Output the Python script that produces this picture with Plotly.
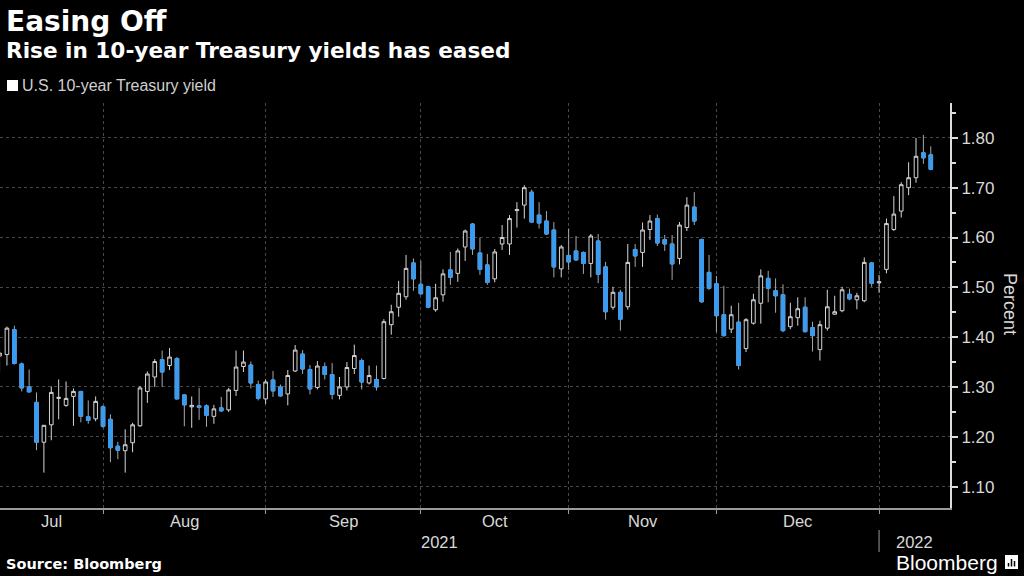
import pandas as pd
import plotly.graph_objects as go

# Trading days on the chart (US bond market calendar)
START_DATE = '2021-07-12'
END_DATE = '2022-01-11'
HOLIDAYS = ['2021-09-06', '2021-10-11', '2021-11-11', '2021-11-25', '2021-12-24']

# Daily OHLC of the U.S. 10-year Treasury yield (percent)
opens = [1.362, 1.365, 1.415, 1.346, 1.300, 1.269, 1.189, 1.224, 1.277, 1.263,
         1.281, 1.291, 1.240, 1.236, 1.260, 1.235, 1.181, 1.172, 1.188, 1.222,
         1.291, 1.320, 1.355, 1.343, 1.357, 1.284, 1.260, 1.262, 1.262, 1.241,
         1.258, 1.254, 1.293, 1.341, 1.344, 1.305, 1.276, 1.314, 1.300, 1.286,
         1.332, 1.366, 1.335, 1.299, 1.341, 1.325, 1.283, 1.300, 1.337, 1.353,
         1.308, 1.315, 1.317, 1.425, 1.460, 1.481, 1.549, 1.506, 1.501, 1.455,
         1.485, 1.535, 1.528, 1.581, 1.627, 1.569, 1.545, 1.517, 1.587, 1.587,
         1.654, 1.665, 1.691, 1.645, 1.633, 1.615, 1.537, 1.564, 1.573, 1.570,
         1.548, 1.593, 1.541, 1.460, 1.490, 1.461, 1.576, 1.570, 1.616, 1.638,
         1.596, 1.587, 1.558, 1.620, 1.661, 1.596, 1.530, 1.507, 1.445, 1.416,
         1.430, 1.377, 1.428, 1.468, 1.518, 1.493, 1.485, 1.421, 1.439, 1.460,
         1.419, 1.375, 1.418, 1.446, 1.453, 1.486, 1.475, 1.473, 1.549, 1.509,
         1.536, 1.616, 1.653, 1.700, 1.720, 1.770, 1.766]
highs = [1.375, 1.421, 1.423, 1.349, 1.335, 1.289, 1.223, 1.301, 1.315, 1.311,
         1.297, 1.292, 1.273, 1.281, 1.263, 1.245, 1.190, 1.215, 1.228, 1.302,
         1.331, 1.356, 1.373, 1.378, 1.360, 1.285, 1.281, 1.298, 1.265, 1.264,
         1.280, 1.298, 1.373, 1.373, 1.351, 1.313, 1.315, 1.332, 1.305, 1.334,
         1.384, 1.374, 1.344, 1.352, 1.349, 1.348, 1.320, 1.350, 1.385, 1.357,
         1.343, 1.343, 1.436, 1.465, 1.513, 1.565, 1.558, 1.553, 1.503, 1.507,
         1.536, 1.571, 1.578, 1.616, 1.629, 1.600, 1.567, 1.577, 1.625, 1.645,
         1.671, 1.705, 1.696, 1.671, 1.653, 1.631, 1.585, 1.618, 1.603, 1.572,
         1.607, 1.607, 1.551, 1.501, 1.495, 1.587, 1.587, 1.630, 1.645, 1.646,
         1.605, 1.605, 1.631, 1.681, 1.691, 1.598, 1.565, 1.523, 1.503, 1.463,
         1.469, 1.438, 1.487, 1.536, 1.533, 1.518, 1.506, 1.469, 1.480, 1.480,
         1.431, 1.433, 1.495, 1.483, 1.501, 1.497, 1.489, 1.560, 1.551, 1.525,
         1.638, 1.683, 1.711, 1.751, 1.800, 1.806, 1.783]
lows = [1.330, 1.343, 1.345, 1.291, 1.290, 1.173, 1.128, 1.193, 1.235, 1.260,
        1.222, 1.229, 1.226, 1.231, 1.218, 1.149, 1.155, 1.128, 1.169, 1.220,
        1.268, 1.300, 1.300, 1.334, 1.275, 1.221, 1.218, 1.234, 1.220, 1.226,
        1.250, 1.250, 1.282, 1.330, 1.297, 1.273, 1.266, 1.280, 1.280, 1.263,
        1.330, 1.326, 1.285, 1.295, 1.315, 1.275, 1.275, 1.293, 1.326, 1.295,
        1.305, 1.293, 1.315, 1.405, 1.441, 1.475, 1.493, 1.485, 1.458, 1.451,
        1.471, 1.505, 1.511, 1.553, 1.565, 1.525, 1.505, 1.510, 1.575, 1.565,
        1.620, 1.638, 1.630, 1.618, 1.605, 1.520, 1.520, 1.535, 1.553, 1.527,
        1.520, 1.508, 1.435, 1.455, 1.413, 1.455, 1.541, 1.541, 1.595, 1.583,
        1.573, 1.515, 1.546, 1.613, 1.625, 1.469, 1.495, 1.410, 1.401, 1.408,
        1.335, 1.370, 1.425, 1.427, 1.470, 1.449, 1.410, 1.416, 1.423, 1.409,
        1.371, 1.353, 1.413, 1.445, 1.450, 1.474, 1.456, 1.470, 1.501, 1.489,
        1.528, 1.613, 1.640, 1.685, 1.710, 1.748, 1.735]
closes = [1.368, 1.418, 1.347, 1.298, 1.290, 1.189, 1.223, 1.289, 1.279, 1.277,
          1.291, 1.241, 1.233, 1.271, 1.221, 1.178, 1.173, 1.184, 1.224, 1.298,
          1.326, 1.351, 1.330, 1.360, 1.276, 1.264, 1.263, 1.259, 1.243, 1.256,
          1.252, 1.294, 1.340, 1.350, 1.308, 1.277, 1.310, 1.292, 1.282, 1.323,
          1.374, 1.336, 1.296, 1.342, 1.325, 1.285, 1.300, 1.339, 1.363, 1.310,
          1.323, 1.300, 1.431, 1.451, 1.488, 1.538, 1.517, 1.487, 1.460, 1.479,
          1.527, 1.520, 1.573, 1.613, 1.577, 1.536, 1.510, 1.571, 1.600, 1.638,
          1.656, 1.700, 1.631, 1.629, 1.607, 1.541, 1.581, 1.551, 1.555, 1.548,
          1.603, 1.526, 1.451, 1.490, 1.436, 1.550, 1.563, 1.615, 1.633, 1.589,
          1.587, 1.547, 1.625, 1.665, 1.633, 1.471, 1.498, 1.443, 1.403, 1.445,
          1.343, 1.435, 1.475, 1.523, 1.498, 1.483, 1.413, 1.441, 1.457, 1.411,
          1.403, 1.425, 1.461, 1.451, 1.495, 1.477, 1.483, 1.550, 1.508, 1.511,
          1.628, 1.647, 1.706, 1.720, 1.763, 1.760, 1.737]

month_labels = ['Jul', 'Aug', 'Sep', 'Oct', 'Nov', 'Dec']
year_labels = ['2021', '2022']
y_ticks = [1.10, 1.20, 1.30, 1.40, 1.50, 1.60, 1.70, 1.80]
y_minor_ticks = [1.15, 1.25, 1.35, 1.45, 1.55, 1.65, 1.75, 1.85]

BLUE = '#3a9cf0'
GRID = '#474747'
TEXT = '#d9d9d9'

dates = pd.bdate_range(START_DATE, END_DATE)
dates = dates[~dates.isin(pd.to_datetime(HOLIDAYS))]
x_idx = list(range(len(dates)))
hover = [d.strftime('%b %d, %Y') for d in dates]

# month separators sit on the last trading day of each month
periods = dates.to_period('M')
month_end_idx = [i for i in range(len(dates) - 1) if periods[i] != periods[i + 1]]

x_range = [0.06, 128.6]

body_hi = [max(o, c) for o, c in zip(opens, closes)]
body_lo = [min(o, c) for o, c in zip(opens, closes)]

fig = go.Figure()

# wicks + hollow up candles
fig.add_trace(go.Candlestick(
    x=x_idx, open=opens, high=highs, low=lows, close=closes, text=hover,
    increasing=dict(line=dict(color='#d6d6d6', width=1), fillcolor='#000000'),
    decreasing=dict(line=dict(color='#a8a8a8', width=1), fillcolor=BLUE),
    whiskerwidth=0, name='U.S. 10-year Treasury yield', hoverinfo='skip'))

# solid blue bodies for down days drawn on top
fig.add_trace(go.Candlestick(
    x=x_idx, open=opens, high=body_hi, low=body_lo, close=closes,
    increasing=dict(line=dict(color='rgba(0,0,0,0)', width=0), fillcolor='rgba(0,0,0,0)'),
    decreasing=dict(line=dict(color=BLUE, width=1), fillcolor=BLUE),
    whiskerwidth=0, hoverinfo='skip', showlegend=False))

PLOT_W = 1024 - 74
PLOT_H = 576 - 103 - 68


def px(xp):
    return xp / PLOT_W


def py(yp):
    return (576 - 68 - yp) / PLOT_H


annotations = [
    dict(text='<b>Easing Off</b>', x=px(4), y=py(21), xanchor='left', yanchor='middle',
         font=dict(family='DejaVu Sans', size=28, color='#ffffff')),
    dict(text='<b>Rise in 10-year Treasury yields has eased</b>', x=px(4), y=py(50),
         xanchor='left', yanchor='middle',
         font=dict(family='DejaVu Sans', size=21.6, color='#ffffff')),
    dict(text='U.S. 10-year Treasury yield', x=px(20), y=py(86), xanchor='left', yanchor='middle',
         font=dict(family='Liberation Sans', size=16, color='#cfcfcf')),
    dict(text='<b>Source: Bloomberg</b>', x=px(4), y=py(564), xanchor='left', yanchor='middle',
         font=dict(family='DejaVu Sans', size=14.5, color='#ffffff')),
    dict(text='Bloomberg', x=px(894), y=py(562), xanchor='left', yanchor='middle',
         font=dict(family='Liberation Sans', size=21, color='#ffffff')),
    dict(text='Percent', x=px(1010), y=py(304), xanchor='center', yanchor='middle', textangle=90,
         font=dict(family='Liberation Sans', size=18, color=TEXT)),
]

# month labels centred between separators
edges = [x_range[0]] + month_end_idx
for k, lab in enumerate(month_labels):
    annotations.append(dict(text=lab, x=(edges[k] + edges[k + 1]) / 2, xref='x', y=py(521),
                            xanchor='center', yanchor='middle',
                            font=dict(family='Liberation Sans', size=16.5, color=TEXT)))

year_pos = [(x_range[0] + month_end_idx[-1]) / 2, (month_end_idx[-1] + x_range[1]) / 2]
for lab, xp in zip(year_labels, year_pos):
    annotations.append(dict(text=lab, x=xp, xref='x', y=py(542), xanchor='center', yanchor='middle',
                            font=dict(family='Liberation Sans', size=16.5, color=TEXT)))

for a in annotations:
    a.setdefault('xref', 'paper')
    a['yref'] = 'paper'
    a['showarrow'] = False

shapes = [
    # legend swatch
    dict(type='rect', xref='paper', yref='paper', x0=px(7), x1=px(18), y0=py(91), y1=py(80),
         fillcolor='#ffffff', line=dict(width=0)),
    # year separator
    dict(type='line', xref='x', yref='paper', x0=month_end_idx[-1], x1=month_end_idx[-1],
         y0=py(530), y1=py(552), line=dict(color='#9a9a9a', width=1)),
    # little logo box
    dict(type='rect', xref='paper', yref='paper', x0=px(1005), x1=px(1018), y0=py(569), y1=py(555),
         fillcolor='#ffffff', line=dict(width=0)),
]
for bx, top in [(1008.5, 563), (1011.5, 559), (1014.5, 561)]:
    shapes.append(dict(type='line', xref='paper', yref='paper', x0=px(bx), x1=px(bx),
                       y0=py(566.5), y1=py(top), line=dict(color='#000000', width=1.5)))

fig.update_layout(
    width=1024, height=576,
    paper_bgcolor='#000000', plot_bgcolor='#000000',
    margin=dict(l=0, r=74, t=103, b=68),
    showlegend=False,
    annotations=annotations,
    shapes=shapes,
    xaxis=dict(range=x_range, tickvals=month_end_idx, ticktext=[''] * len(month_end_idx),
               ticks='outside', ticklen=4, tickcolor='#9a9a9a', showgrid=True, gridcolor=GRID,
               griddash='dot', gridwidth=1, showline=True, linecolor='#9a9a9a', linewidth=1.5,
               zeroline=False, rangeslider=dict(visible=False), fixedrange=True),
    yaxis=dict(side='right', range=[1.057, 1.870], tickvals=y_ticks,
               ticktext=[f'{v:.2f}' for v in y_ticks], ticks='outside', ticklen=6,
               tickcolor='#dddddd', tickwidth=2, showline=True, linecolor='#dddddd', linewidth=2,
               showgrid=True, gridcolor=GRID, griddash='dot', gridwidth=1, zeroline=False,
               tickfont=dict(family='Liberation Sans', size=17, color=TEXT),
               minor=dict(tickvals=y_minor_ticks, ticks='outside', ticklen=4,
                          tickcolor='#dddddd', tickwidth=1.5, showgrid=False),
               fixedrange=True),
)

# page body has a default margin; drop it so the figure fills the window
fig.write_html("out.html", config={'displayModeBar': False},
               post_script="document.body.style.margin='0px';"
                           "document.body.style.overflow='hidden';")
